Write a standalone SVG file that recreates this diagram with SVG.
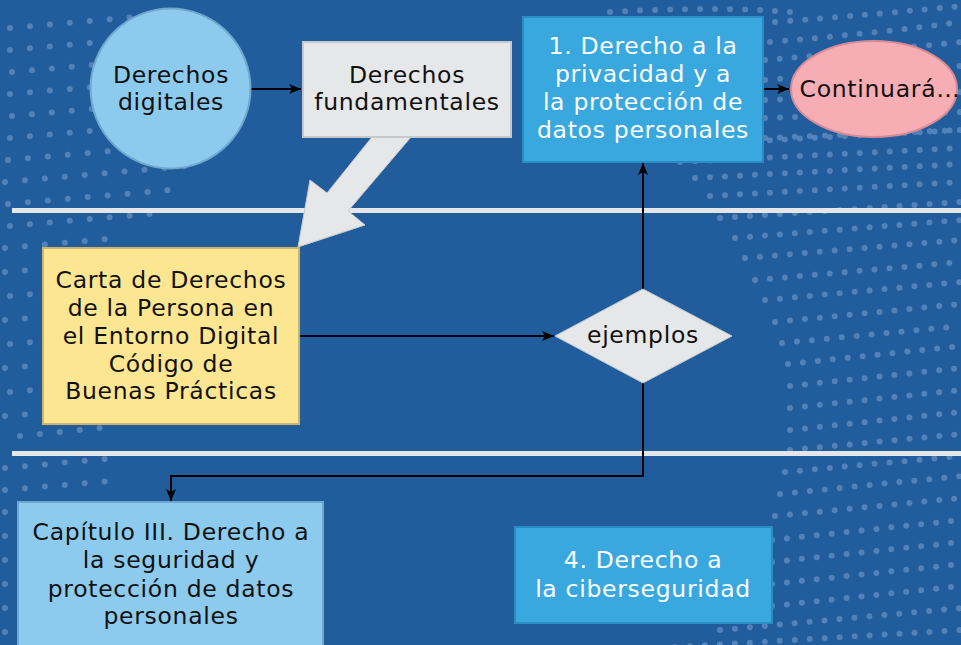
<svg xmlns="http://www.w3.org/2000/svg" width="961" height="645" viewBox="0 0 961 645">
<defs>
<style>
.t{font-family:"DejaVu Sans","Liberation Sans",sans-serif;font-size:23.5px;letter-spacing:0.7px;text-anchor:middle;fill:#111111}
.w{fill:#ffffff}
.dl{fill:none;stroke:#5f8cc2;stroke-opacity:0.8;stroke-width:6;stroke-linecap:round;stroke-dasharray:0 20}
.dr{fill:none;stroke:#5f8cc2;stroke-opacity:0.8;stroke-width:6;stroke-linecap:round;stroke-dasharray:0 15}
.sep{stroke:#e4e6ea;stroke-width:5}
.c{fill:none;stroke:#000;stroke-width:2}
</style>
<marker id="ah" markerUnits="userSpaceOnUse" markerWidth="14" markerHeight="12" refX="12" refY="5" orient="auto">
<path d="M0,0 L12,5 L0,10 L3,5 z" fill="#000"/>
</marker>
</defs>
<rect width="961" height="645" fill="#215d9c"/>
<g id="dots-left">
<path class="dl" d="M10,28 L170,14"/>
<path class="dl" d="M10,50 L170,36"/>
<path class="dl" d="M12,72 L150,60"/>
<path class="dl" d="M10,94 L150,82"/>
<path class="dl" d="M12,116 L150,104"/>
<path class="dl" d="M10,138 L190,122"/>
<path class="dl" d="M8,160 L190,144"/>
<path class="dl" d="M5,182 L200,165"/>
<path class="dl" d="M8,204 L170,190"/>
<path class="dl" d="M10,226 L160,213"/>
<path class="dl" d="M5,248 L120,238"/>
<path class="dl" d="M5,272 L45,269"/>
<path class="dl" d="M10,296 L45,293"/>
<path class="dl" d="M5,320 L45,317"/>
<path class="dl" d="M10,344 L45,341"/>
<path class="dl" d="M5,368 L45,365"/>
<path class="dl" d="M10,392 L45,389"/>
<path class="dl" d="M5,416 L45,413"/>
<path class="dl" d="M20,436 L100,428"/>
<path class="dl" d="M5,468 L105,459"/>
<path class="dl" d="M5,490 L110,481"/>
<path class="dl" d="M5,512 L30,510"/>
<path class="dl" d="M5,536 L20,535"/>
<path class="dl" d="M5,560 L20,559"/>
<path class="dl" d="M5,584 L20,583"/>
<path class="dl" d="M5,608 L20,607"/>
<path class="dl" d="M5,632 L20,631"/>
</g>
<g id="dots-right">
<path class="dr" d="M610,12 Q720,6 790,12"/>
<path class="dr" d="M775,22 Q880,14 961,6"/>
<path class="dr" d="M770,42 Q870,34 961,22"/>
<path class="dr" d="M765,60 Q860,52 961,42"/>
<path class="dr" d="M765,80 Q870,72 961,66"/>
<path class="dr" d="M765,100 L961,92"/>
<path class="dr" d="M765,118 L961,112"/>
<path class="dr" d="M765,138 L961,130"/>
<path class="dr" d="M680,145 L961,130"/>
<path class="dr" d="M680,162 L961,148"/>
<path class="dr" d="M695,178 L961,164"/>
<path class="dr" d="M710,196 L961,182"/>
<path class="dr" d="M720,218 L961,202"/>
<path class="dr" d="M735,238 L961,220"/>
<path class="dr" d="M745,258 L961,240"/>
<path class="dr" d="M755,280 L961,262"/>
<path class="dr" d="M765,300 L961,282"/>
<path class="dr" d="M775,322 L961,304"/>
<path class="dr" d="M782,343 L961,326"/>
<path class="dr" d="M788,364 L961,346"/>
<path class="dr" d="M790,386 L961,368"/>
<path class="dr" d="M790,408 L961,390"/>
<path class="dr" d="M790,430 L961,412"/>
<path class="dr" d="M790,450 L961,434"/>
<path class="dr" d="M785,472 L961,456"/>
<path class="dr" d="M780,494 L961,476"/>
<path class="dr" d="M775,516 L961,498"/>
<path class="dr" d="M772,540 L961,520"/>
<path class="dr" d="M772,562 L961,542"/>
<path class="dr" d="M772,584 L961,564"/>
<path class="dr" d="M772,606 L961,586"/>
<path class="dr" d="M720,630 L961,608"/>
<path class="dr" d="M660,648 L961,630"/>
</g>
<g id="separators">
<line class="sep" x1="12" y1="210.5" x2="961" y2="210.5"/>
<line class="sep" x1="12" y1="453.5" x2="961" y2="453.5"/>
</g>
<g id="connectors">
<path class="c" d="M251,89 H301" marker-end="url(#ah)"/>
<path class="c" d="M763,89 H789" marker-end="url(#ah)"/>
<path class="c" d="M299,336 H554" marker-end="url(#ah)"/>
<path class="c" d="M643,289 V163" marker-end="url(#ah)"/>
<path class="c" d="M643,383 V476 H171 V501" marker-end="url(#ah)"/>
<polygon id="block-arrow" points="372,137 411,137 348,211 365,225 298,247 310,180 327,193" fill="#e6e7e8" stroke="#c9cacc" stroke-width="1"/>
</g>
<g id="derechos-digitales">
<circle cx="170.5" cy="88.5" r="80" fill="#8ccbee" stroke="#6fa7cf" stroke-width="2"/>
<text class="t" x="171" y="83">Derechos</text>
<text class="t" x="171" y="110">digitales</text>
</g>
<g id="derechos-fundamentales">
<rect x="303" y="42" width="208" height="95" fill="#e6e7e8" stroke="#c6c8ca" stroke-width="2"/>
<text class="t" x="407" y="83">Derechos</text>
<text class="t" x="407" y="110">fundamentales</text>
</g>
<g id="derecho-privacidad">
<rect x="523" y="17" width="240" height="145" fill="#39a8df" stroke="#2b8cc3" stroke-width="2"/>
<text class="t w" x="643" y="54">1. Derecho a la</text>
<text class="t w" x="643" y="82">privacidad y a</text>
<text class="t w" x="643" y="110">la protección de</text>
<text class="t w" x="643" y="138">datos personales</text>
</g>
<g id="continuara">
<ellipse cx="874" cy="89" rx="83" ry="48" fill="#f7adb4" stroke="#d98b95" stroke-width="2"/>
<text class="t" x="880" y="97">Continuará…</text>
</g>
<g id="carta">
<rect x="43" y="248" width="256" height="176" fill="#fde691" stroke="#c9b56b" stroke-width="2"/>
<text class="t" x="171" y="288">Carta de Derechos</text>
<text class="t" x="171" y="316">de la Persona en</text>
<text class="t" x="171" y="344">el Entorno Digital</text>
<text class="t" x="171" y="372">Código de</text>
<text class="t" x="171" y="399">Buenas Prácticas</text>
</g>
<g id="ejemplos">
<polygon points="643,289 732,336 643,383 555,336" fill="#e6e7e8" stroke="#c6c8ca" stroke-width="1"/>
<text class="t" x="643" y="343">ejemplos</text>
</g>
<g id="capitulo-iii">
<rect x="18" y="502" width="305" height="150" fill="#8ccbee" stroke="#6fa7cf" stroke-width="2"/>
<text class="t" x="171" y="540">Capítulo III. Derecho a</text>
<text class="t" x="171" y="568">la seguridad y</text>
<text class="t" x="171" y="597">protección de datos</text>
<text class="t" x="171" y="624">personales</text>
</g>
<g id="ciberseguridad">
<rect x="515" y="527" width="257" height="96" fill="#39a8df" stroke="#2b8cc3" stroke-width="2"/>
<text class="t w" x="643" y="568">4. Derecho a</text>
<text class="t w" x="643" y="597">la ciberseguridad</text>
</g>
</svg>
